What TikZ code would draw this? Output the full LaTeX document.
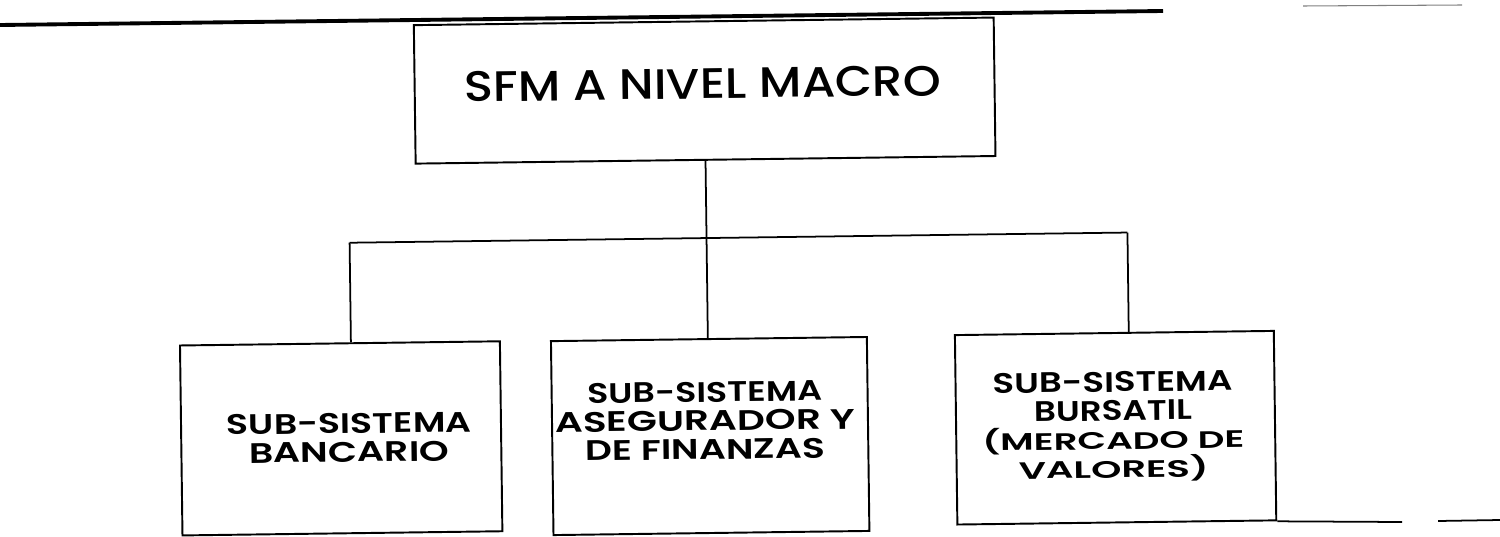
\documentclass[tikz,border=0pt]{standalone}
\usepackage{fontspec}
\setmainfont{Poppins}
\newfontfamily\semib{Poppins SemiBold}
\newfontfamily\medf{Poppins Medium}
\newcommand\capline[2]{\resizebox{#1}{0.4cm}{\semib #2}}
\newcommand\parline[2]{\resizebox{#1}{0.44cm}{\semib #2}}
\begin{document}
\begin{tikzpicture}[x=0.02cm,y=-0.02cm,
  box/.style={draw=black,line width=1.1pt,inner sep=0pt},
  link/.style={draw=black,line width=1pt},
  toptxt/.style={inner sep=0pt,anchor=north},
  subtxt/.style={font=\fontsize{18}{16.3}\selectfont,inner sep=0pt,align=center,anchor=north}]
\useasboundingbox (0,0) rectangle (1500,537);
% scanned rule at the top
\draw[line width=2.2pt] (0,25) -- (1163,11);
\draw[line width=0.6pt,gray] (1303,6) -- (1462,5);
\begin{scope}[rotate around={0.75:(750,270)},transform shape]
  \node[box,minimum width=11.6cm,minimum height=2.77cm] (top) at (707,90) {};
  \node[toptxt] (toptext) at (705,67.7) {\resizebox{9.54cm}{0.6cm}{\medf SFM A NIVEL MACRO}};
  \node[box,minimum width=6.4cm,minimum height=3.8cm] (b1) at (339,433) {};
  \node[box,minimum width=6.32cm,minimum height=3.88cm] (b2) at (708,435.5) {};
  \node[box,minimum width=6.38cm,minimum height=3.79cm] (b3) at (1113.5,432.5) {};
  \node[subtxt] (t1) at (347,407.7) {\capline{4.9cm}{SUB-SISTEMA}\\\capline{4.0cm}{BANCARIO}};
  \node[subtxt] (t2) at (703,381.1) {\capline{4.7cm}{SUB-SISTEMA}\\\capline{6.0cm}{ASEGURADOR Y}\\\capline{4.8cm}{DE FINANZAS}};
  \node[subtxt] (t3) at (1111,376.4) {\capline{4.8cm}{SUB-SISTEMA}\\\capline{3.16cm}{BURSATIL}\\\parline{5.24cm}{(MERCADO DE}\\\parline{3.8cm}{VALORES)}};
  \coordinate (jc) at (707,237.5);
  \coordinate (jl) at (350,237.5);
  \coordinate (jr) at (1128,237.5);
  \draw[link] (top.south -| jc) -- (jc);
  \draw[link] (jl) -- (jr);
  \draw[link] (jl) -- (jl |- b1.north);
  \draw[link] (jc) -- (jc |- b2.north);
  \draw[link] (jr) -- (jr |- b3.north);
\end{scope}
\draw[link] (b3.south east) -- (1402,522);
\draw[link] (1438,521) -- (1500,520);
\end{tikzpicture}
\end{document}
